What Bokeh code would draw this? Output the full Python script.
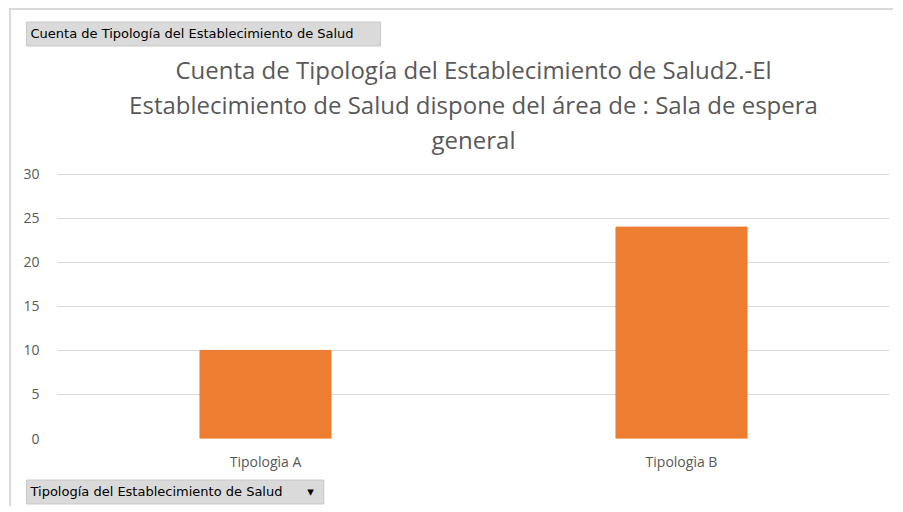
from bokeh.plotting import figure
from bokeh.models import Title, FixedTicker
from bokeh.embed import file_html
from bokeh.resources import INLINE

categories = ["Tipologìa A", "Tipologìa B"]
counts = [10, 24]
y_ticks = [0, 5, 10, 15, 20, 25, 30]
title_lines = [
    "Cuenta de Tipología del Establecimiento de Salud2.-El",
    "Establecimiento de Salud dispone del área de : Sala de espera",
    "general",
]
value_button = "Cuenta de Tipología del Establecimiento de Salud"
axis_button = "Tipología del Establecimiento de Salud"

W, H = 884, 498
p = figure(x_range=categories, y_range=(0, 30.2), width=W, height=H,
           output_backend="svg", toolbar_location=None,
           min_border_left=46, min_border_right=6, min_border_top=0, min_border_bottom=0)
p.styles = {"margin-left": "9px", "margin-top": "8px",
            "border-top": "2px solid #d9d9d9", "border-left": "2px solid #d9d9d9"}
p.outline_line_color = None
p.background_fill_color = "white"
p.border_fill_color = "white"

p.vbar(x=categories, top=counts, width=0.315, color="#ED7D31")

p.xgrid.grid_line_color = None
p.ygrid.grid_line_color = "#d9d9d9"
p.ygrid.grid_line_width = 1.2
p.yaxis.ticker = FixedTicker(ticks=y_ticks)
for ax in (p.xaxis, p.yaxis):
    ax.axis_line_color = None
    ax.major_tick_line_color = None
    ax.minor_tick_line_color = None
    ax.major_label_text_color = "#595959"
    ax.major_label_text_font = "Open Sans"
    ax.major_label_text_font_size = "14px"
p.yaxis.major_label_standoff = 12
p.xaxis.major_label_standoff = 7

# spacer between the plot and the chart title
p.add_layout(Title(text="\u00a0", standoff=12, text_font_size="3px"), "above")
# chart title, added bottom line first so that it sits closest to the plot
for t in reversed(title_lines):
    p.add_layout(Title(text=t, align="center", standoff=0,
                       text_font="Open Sans", text_font_size="24px",
                       text_color="#595959", text_font_style="normal"), "above")

# field buttons
p.add_layout(Title(text=value_button, align="left", offset=-31, standoff=9,
                   text_font="DejaVu Sans", text_font_size="13px", text_color="black",
                   text_font_style="normal",
                   background_fill_color="#dadada", border_line_color="#c8c8c8",
                   padding=(4, 27, 4, 5)), "above")
# small spacer at the very top
p.add_layout(Title(text="\u00a0", standoff=0, text_font_size="3px"), "above")

p.add_layout(Title(text=axis_button + "\u00a0" * 6 + "▾", align="left", offset=-31, standoff=9,
                   text_font="DejaVu Sans", text_font_size="13px", text_color="black",
                   text_font_style="normal",
                   background_fill_color="#dadada", border_line_color="#c8c8c8",
                   padding=(4, 10, 4, 5)), "below")

open("out.html", "w").write(file_html(p, INLINE))
